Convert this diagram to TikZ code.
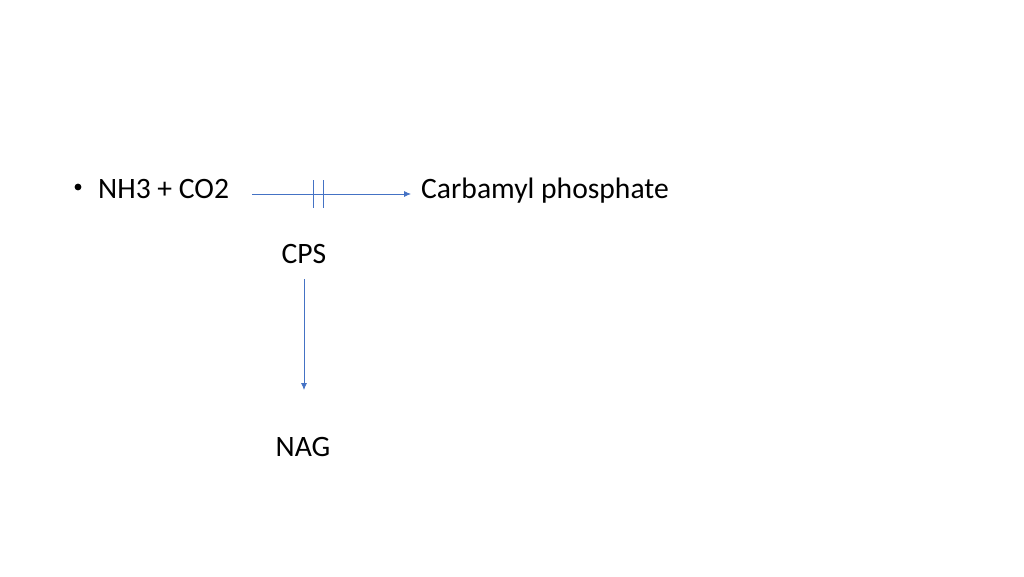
\documentclass[tikz,border=0pt]{standalone}
\usepackage{fontspec}
\setmainfont{Carlito}
\usepackage{tikz}
\usetikzlibrary{arrows.meta}

\definecolor{lineblue}{HTML}{4472C4}

\begin{document}
\begin{tikzpicture}[x=1pt,y=-1pt,font=\fontsize{29.6}{35}\selectfont]
\useasboundingbox (0,0) rectangle (1024,576);
\coordinate (s) at (252,194);
\coordinate (e) at (411,194);
\coordinate (t) at (304,279);
\coordinate (u) at (304,390);
\fill[black] (78,187) circle (3.4) node (dot) {};
\node [anchor = base west, inner sep=0] (nh) at (98,198) {NH3 + CO2};
\node [anchor = base west, inner sep=0] (cp) at (421,198) {Carbamyl phosphate};
\node [anchor = base, inner sep=0] (cps) at (304,263) {CPS};
\node [anchor = base, inner sep=0] (nag) at (303,456) {NAG};
\draw[lineblue, line width=0.8, -{Latex[length=7,width=6]}] (s)--(e);
\draw[lineblue, line width=0.8] (313,180)--(313,208);
\draw[lineblue, line width=0.8] (323,180)--(323,208);
\draw[lineblue, line width=0.8, -{Latex[length=7,width=6]}] (t)--(u);
\end{tikzpicture}
\end{document}
